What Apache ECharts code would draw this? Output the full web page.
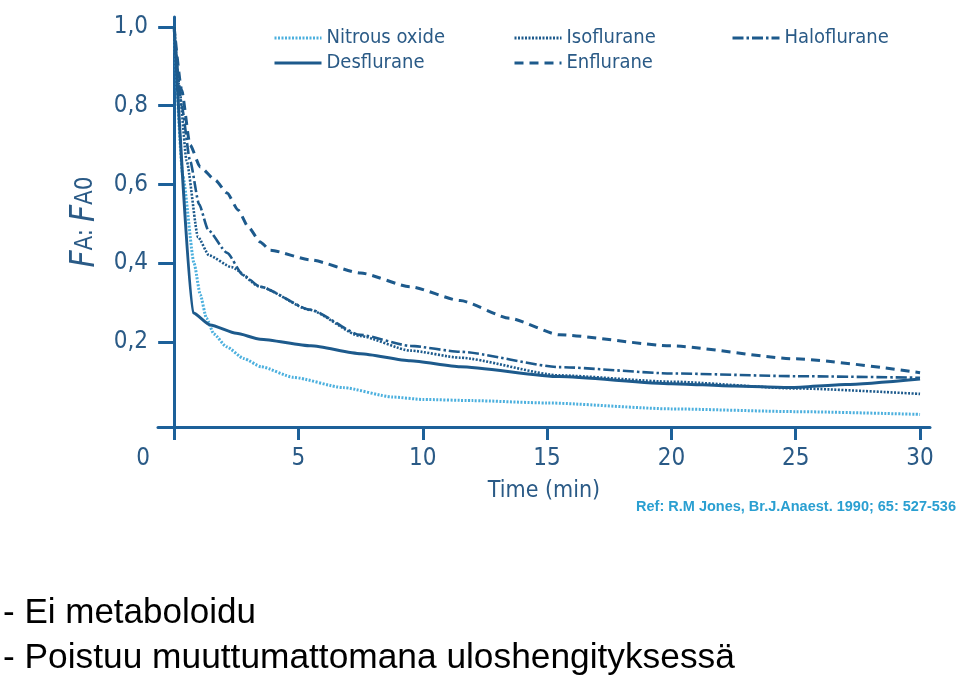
<!DOCTYPE html>
<html>
<head>
<meta charset="utf-8">
<script src="https://cdn.jsdelivr.net/npm/echarts@6/dist/echarts.min.js"></script>
<style>html,body{margin:0;padding:0;background:#fff}#c{width:960px;height:678px}</style>
</head>
<body>
<div id="c"></div>
<script>
// ---- data (time in min, FA:FA0) ----
const xTicks = [0, 5, 10, 15, 20, 25, 30];
const yTicks = [0.2, 0.4, 0.6, 0.8, 1.0];

const nitrousOxide = [[0,1.0],[0.35,0.62],[0.8,0.40],[1.05,0.32],[1.3,0.26],[1.6,0.22],[2.1,0.188],[2.8,0.158],[3.5,0.137],[4.8,0.11],[6.8,0.084],[8.8,0.06],[10,0.054],[12,0.051],[15,0.045],[20,0.03],[25,0.023],[30,0.016]];
const desflurane = [[0,1.0],[0.76,0.274],[1.45,0.243],[2.5,0.222],[3.46,0.207],[5.5,0.19],[7.5,0.17],[9.5,0.152],[11.5,0.137],[15.5,0.112],[20,0.094],[22.5,0.088],[24.8,0.084],[27,0.092],[30,0.106]];
const isoflurane = [[0,1.0],[0.2,0.85],[0.5,0.66],[0.96,0.466],[1.4,0.42],[2.3,0.39],[3.46,0.34],[5.47,0.281],[7.48,0.215],[9.5,0.178],[11.5,0.16],[15.5,0.115],[20,0.099],[25,0.082],[30,0.068]];
const haloflurane = [[0,1.0],[0.3,0.8],[0.64,0.66],[1.0,0.55],[1.37,0.484],[2.13,0.426],[2.77,0.37],[3.46,0.34],[5.47,0.282],[7.48,0.218],[9.5,0.19],[11.5,0.175],[15.5,0.136],[20,0.12],[25,0.113],[30,0.109]];
const enflurane = [[0,1.0],[0.3,0.84],[0.64,0.70],[1.05,0.644],[1.65,0.611],[2.13,0.578],[2.57,0.535],[2.98,0.492],[3.46,0.454],[3.86,0.433],[5.5,0.408],[7.5,0.375],[9.5,0.34],[11.5,0.305],[13.5,0.26],[15.5,0.218],[20,0.19],[25,0.157],[30,0.122]];

const refText = 'Ref: R.M Jones, Br.J.Anaest. 1990; 65: 527-536';
const bullet1 = '- Ei metaboloidu';
const bullet2 = '- Poistuu muuttumattomana uloshengityksessä';

// ---- styling ----
const DARK = '#1d5a8c';
const LIGHT = '#4cb0de';
const AXIS = '#1d6099';
const LABEL = '#2a5a86';
const COND = "'Liberation Sans Narrow','DejaVu Sans Condensed','Roboto Condensed','Open Sans',sans-serif";

const chart = echarts.init(document.getElementById('c'), null, {renderer: 'canvas'});

function mkSeries(name, data, color, type, width) {
  return {
    name, type: 'line', data, symbol: 'none', showSymbol: false,
    smooth: 0.2, smoothMonotone: 'x',
    lineStyle: {color, type, width},
    itemStyle: {color},
    z: 3
  };
}

const legendBase = {
  orient: 'vertical', itemWidth: 47, itemHeight: 14, itemGap: 5, padding: 0,
  itemStyle: {opacity: 0},
  lineStyle: {width: 3},
  textStyle: {fontFamily: COND, fontSize: 20, color: LABEL, lineHeight: 20}
};

chart.setOption({
  animation: false,
  backgroundColor: '#fff',
  grid: {left: 158, right: 30, top: 17, bottom: 251, containLabel: false},
  legend: [
    Object.assign({}, legendBase, {left: 273, top: 28, data: ['Nitrous oxide', 'Desflurane']}),
    Object.assign({}, legendBase, {left: 513, top: 28, data: ['Isoflurane', 'Enflurane']}),
    Object.assign({}, legendBase, {left: 731, top: 28, data: ['Haloflurane']})
  ],
  xAxis: {
    type: 'value', min: -0.65, max: 30.4,
    name: 'Time (min)', nameLocation: 'middle', nameGap: 53,
    nameTextStyle: {fontFamily: COND, fontSize: 23, color: LABEL},
    axisLine: {onZero: false, lineStyle: {color: AXIS, width: 3}},
    axisTick: {show: true, customValues: xTicks, length: 13, inside: false, lineStyle: {color: AXIS, width: 3}},
    axisLabel: {
      customValues: xTicks, margin: 20, fontFamily: COND, fontSize: 24, color: LABEL,
      formatter: v => v === 0 ? '{z|0}' : String(v),
      rich: {z: {fontFamily: COND, fontSize: 24, color: LABEL, padding: [0, 62, 0, 0]}}
    },
    splitLine: {show: false}
  },
  yAxis: {
    type: 'value', min: -0.016, max: 1.025,
    name: '{f|F}{a|A: }{f|F}{a|A0}', nameLocation: 'middle', nameRotate: 90, nameGap: 56,
    nameTextStyle: {
      rich: {
        f: {fontFamily: COND, fontStyle: 'italic', fontSize: 33, color: LABEL},
        a: {fontFamily: COND, fontSize: 24, color: LABEL}
      }
    },
    axisLine: {onZero: true, lineStyle: {color: AXIS, width: 3}},
    axisTick: {show: true, customValues: yTicks, length: 16, lineStyle: {color: AXIS, width: 3}},
    axisLabel: {
      customValues: yTicks, margin: 10, fontFamily: COND, fontSize: 24, color: LABEL,
      formatter: v => v.toFixed(1).replace('.', ',')
    },
    splitLine: {show: false}
  },
  series: [
    mkSeries('Nitrous oxide', nitrousOxide, LIGHT, [2, 1.5], 3),
    mkSeries('Isoflurane', isoflurane, DARK, [2, 1.5], 2.6),
    mkSeries('Haloflurane', haloflurane, DARK, [11, 3, 2.5, 3], 2.6),
    mkSeries('Desflurane', desflurane, DARK, 'solid', 3),
    mkSeries('Enflurane', enflurane, DARK, [9, 6], 3)
  ],
  graphic: [
    {type: 'text', right: 4, top: 499, style: {text: refText, font: "bold 14.5px 'Liberation Sans', Arial, sans-serif", fill: '#2a9fd1'}},
    {type: 'text', x: 3, y: 613, style: {text: bullet1, font: "35px 'Liberation Sans', Arial, sans-serif", fill: '#000', verticalAlign: 'middle'}},
    {type: 'text', x: 3, y: 658, style: {text: bullet2, font: "35.3px 'Liberation Sans', Arial, sans-serif", fill: '#000', verticalAlign: 'middle'}}
  ]
});
</script>
</body>
</html>
